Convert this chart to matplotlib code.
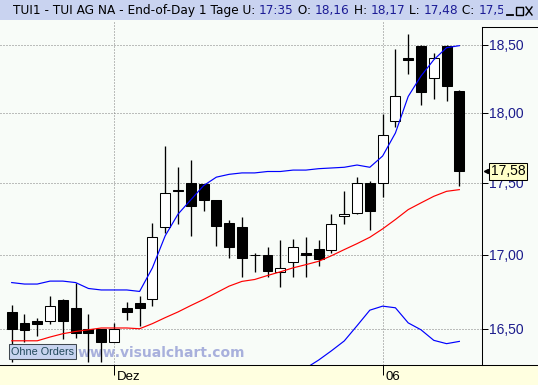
import numpy as np
import matplotlib
matplotlib.use("Agg")
import matplotlib.pyplot as plt
from matplotlib.patches import Rectangle
import matplotlib.transforms as mtransforms
from matplotlib.ticker import FixedLocator, FixedFormatter, NullLocator

# ---------------- data ----------------
opens = [16.61, 16.54, 16.55, 16.55, 16.69, 16.64, 16.50, 16.50, 16.41, 16.64,
         16.67, 16.70, 17.19, 17.45, 17.50, 17.49, 17.38, 17.22, 17.19, 17.00,
         17.00, 16.885, 16.95, 17.01, 17.04, 17.035, 17.265, 17.29, 17.50, 17.50,
         17.94, 18.40, 18.495, 18.255, 18.495, 18.16]
highs = [16.66, 16.60, 16.57, 16.72, 16.70, 16.81, 16.60, 16.50, 16.54, 16.68,
         16.72, 17.22, 17.76, 17.61, 17.66, 17.49, 17.38, 17.24, 17.26, 17.01,
         17.05, 17.10, 17.11, 17.12, 17.10, 17.28, 17.445, 17.54, 17.51, 17.99,
         18.47, 18.58, 18.50, 18.44, 18.50, 18.17]
lows = [16.28, 16.41, 16.45, 16.53, 16.43, 16.44, 16.28, 16.28, 16.41, 16.56,
        16.52, 16.65, 17.15, 17.21, 17.13, 17.30, 17.06, 16.98, 16.85, 16.88,
        16.85, 16.78, 16.85, 16.85, 16.92, 17.015, 17.21, 17.28, 17.17, 17.40,
        17.90, 18.285, 18.06, 18.10, 18.09, 17.48]
closes = [16.50, 16.49, 16.53, 16.65, 16.55, 16.47, 16.47, 16.41, 16.50, 16.61,
          16.64, 17.12, 17.43, 17.44, 17.34, 17.38, 17.20, 17.05, 16.98, 17.00,
          16.89, 16.91, 17.05, 16.995, 16.97, 17.21, 17.28, 17.50, 17.30, 17.84,
          18.125, 18.39, 18.15, 18.40, 18.20, 17.58]
upper_band = [16.81, 16.80, 16.80, 16.82, 16.82, 16.81, 16.77, 16.76, 16.76, 16.76,
              16.75, 16.91, 17.13, 17.28, 17.38, 17.48, 17.54, 17.56, 17.57, 17.57,
              17.58, 17.58, 17.59, 17.59, 17.60, 17.605, 17.61, 17.626, 17.61, 17.69,
              17.855, 18.12, 18.27, 18.39, 18.48, 18.495]
middle_band = [16.42, 16.42, 16.42, 16.445, 16.467, 16.482, 16.493, 16.505, 16.505, 16.505,
               16.50, 16.534, 16.574, 16.612, 16.655, 16.696, 16.741, 16.786, 16.818, 16.831,
               16.858, 16.883, 16.91, 16.932, 16.955, 16.993, 17.035, 17.076, 17.12, 17.178,
               17.243, 17.312, 17.359, 17.405, 17.44, 17.452]
lower_band = [np.nan] * 22 + [16.20, 16.24, 16.293, 16.354, 16.419, 16.52, 16.624, 16.651,
                              16.64, 16.539, 16.493, 16.423, 16.401, 16.416]
ytick_values = [16.5, 17.0, 17.5, 18.0, 18.5]
ytick_labels = ["16,50", "17,00", "17,50", "18,00", "18,50"]
xtick_positions = [8, 29]
xtick_labels = ["Dez", "06"]
title_parts = [("TUI1 - TUI AG NA - End-of-Day 1 Tage U: ", "black"), ("17:35", "#1C1C96"),
               (" O: ", "black"), ("18,16", "#1C1C96"), (" H: ", "black"), ("18,17", "#1C1C96"),
               (" L: ", "black"), ("17,48", "#1C1C96"), (" C: ", "black"), ("17,58", "#1C1C96")]

# ---------------- figure ----------------
W, H = 538, 385
BG = "#F8FCF8"
FONT = "Liberation Sans"
fig = plt.figure(figsize=(W / 100, H / 100), dpi=100, facecolor=BG)

deco = fig.add_axes([0, 0, 1, 1], zorder=-1)
deco.set_xlim(0, W)
deco.set_ylim(H, 0)
deco.axis("off")
deco.add_patch(Rectangle((0, 0), W, 20, facecolor="#C9D3F0", edgecolor="none"))
deco.add_patch(Rectangle((0, 365), W, 20, facecolor="#FFFFE0", edgecolor="none"))

ax = fig.add_axes([0, 20 / H, 482 / W, 345 / H], zorder=1)
ax.set_facecolor(BG)
for sp in ax.spines.values():
    sp.set_visible(False)

x = np.arange(len(opens))
o = np.array(opens); c = np.array(closes)
h = np.array(highs); l = np.array(lows)
rising = c > o

ax.vlines(x, l, h, colors="black", lw=0.95, zorder=2)
bottoms = np.minimum(o, c)
heights = np.abs(c - o)
ax.bar(x, heights, bottom=bottoms, width=0.78,
       color=np.where(rising, "white", "black"), edgecolor="black", linewidth=0.75, zorder=3)

ax.plot(x, upper_band, color="#0000FF", lw=0.85, zorder=4)
ax.plot(x, lower_band, color="#0000FF", lw=0.85, zorder=4)
ax.plot(x, middle_band, color="#FF0000", lw=0.85, zorder=4)

ax.set_yscale("log")
ax.set_ylim(16.2605, 18.6874)
ax.set_xlim(-0.915, 36.77)
ax.yaxis.set_major_locator(FixedLocator(ytick_values))
ax.yaxis.set_major_formatter(FixedFormatter(ytick_labels))
ax.yaxis.set_minor_locator(NullLocator())
ax.yaxis.tick_right()
ax.tick_params(axis="y", direction="out", length=4.3, width=0.72, color="black",
               labelcolor="#1C1C8C", labelsize=10, pad=1.0)
for t in ax.get_yticklabels():
    t.set_family(FONT)
ax.set_xticks(xtick_positions)
ax.set_xticklabels([])
ax.tick_params(axis="x", direction="out", length=7.2, width=0.72, color="black")
ax.set_axisbelow(True)
ax.grid(True, linestyle=(0, (1, 2)), color="#808080", lw=0.72)

# x labels beside the ticks
xlab_tr = mtransforms.blended_transform_factory(ax.transData, ax.transAxes) + \
    mtransforms.ScaledTranslation(3 / 100, -6.5 / 100, fig.dpi_scale_trans)
for pos, lab in zip(xtick_positions, xtick_labels):
    ax.text(pos, 0, lab, transform=xlab_tr, ha="left", va="top", fontsize=9.5,
            family=FONT, color="black", clip_on=False)

# frame lines
ax.plot([0, W], [365, 365], color="black", lw=0.75, transform=deco.transData, clip_on=False, zorder=6)
ax.plot([482, 482], [27, 365], color="black", lw=0.75, transform=deco.transData, clip_on=False, zorder=6)
ax.plot([482, W], [27, 27], color="black", lw=0.75, transform=deco.transData, clip_on=False, zorder=6)

renderer = fig.canvas.get_renderer()

# watermark (behind candles)
wm = ax.text(78, 357, "www.visualchart.com", transform=deco.transData, fontsize=12,
             fontweight="bold", family="DejaVu Sans", color="#A8B0DC", ha="left",
             va="baseline", zorder=1, clip_on=False)
wbb = wm.get_window_extent(renderer)
wm.set_fontsize(12 * 167 / wbb.width)

# "Ohne Orders" box
ax.add_patch(Rectangle((9, 344), 67, 15, transform=deco.transData, facecolor="#C8D4F0",
                       edgecolor="#404850", lw=0.75, zorder=7, clip_on=False))
ax.text(42.5, 352, "Ohne Orders", transform=deco.transData, ha="center", va="center",
        fontsize=7.8, family=FONT, color="#20485A", zorder=8, clip_on=False)

# last price tag
tag_tr = mtransforms.blended_transform_factory(ax.transAxes, ax.transData) + \
    mtransforms.ScaledTranslation(9 / 100, 0, fig.dpi_scale_trans)
ax.text(1.0, closes[-1], f"{closes[-1]:.2f}".replace(".", ","), transform=tag_tr,
        ha="left", va="center", fontsize=10, family=FONT, color="black", zorder=9,
        clip_on=False,
        bbox=dict(boxstyle="square,pad=0.12", facecolor="#FFFFC8", edgecolor="black", lw=0.75))
arr_tr = mtransforms.blended_transform_factory(ax.transAxes, ax.transData) + \
    mtransforms.ScaledTranslation(3.5 / 100, 0, fig.dpi_scale_trans)
ax.plot([1.0], [closes[-1]], marker="<", markersize=3, color="black", transform=arr_tr,
        clip_on=False, zorder=9)

# title: size chosen so that the "C: " label starts where the reference shows it
TFONT = "DejaVu Sans"
def tw(s, fs):
    t = deco.text(0, 0, s + "|", fontsize=fs, family=TFONT)
    w1 = t.get_window_extent(renderer).width
    t.remove()
    t2 = deco.text(0, 0, "|", fontsize=fs, family=TFONT)
    w2 = t2.get_window_extent(renderer).width
    t2.remove()
    return w1 - w2

full_before_last = "".join(s for s, _ in title_parts[:-1])
fs_title = 8.0 * (476 - 13) / tw(full_before_last, 8.0)
prefix = ""
for s, col in title_parts:
    xx = 13 + (tw(prefix, fs_title) if prefix else 0)
    deco.text(xx, 10.5, s, color=col, fontsize=fs_title, family=TFONT, ha="left", va="center")
    prefix += s
deco.add_patch(Rectangle((503, 0), 35, 20, facecolor="#C9D3F0", edgecolor="none", zorder=5))
# window buttons
deco.plot([507, 513], [15, 15], color="black", lw=1.3, zorder=6)
deco.add_patch(Rectangle((516, 7), 7, 8, facecolor="none", edgecolor="black", lw=1.0, zorder=6))
deco.plot([526, 532], [7, 15], color="black", lw=1.0, zorder=6)
deco.plot([526, 532], [15, 7], color="black", lw=1.0, zorder=6)

fig.savefig("out.png", dpi=100, facecolor=BG)
